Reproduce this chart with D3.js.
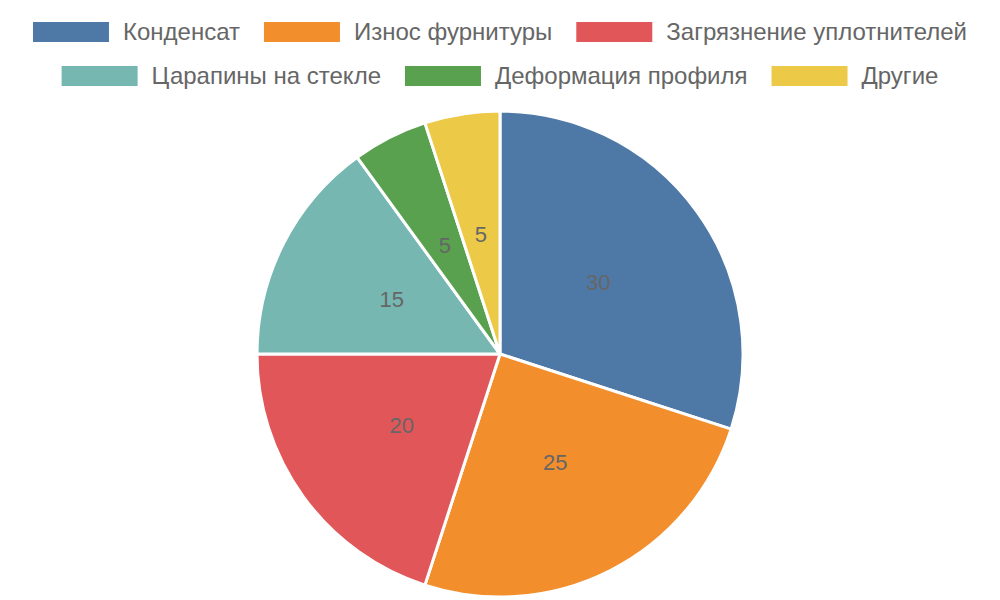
<!DOCTYPE html>
<html>
<head>
<meta charset="utf-8">
<script src="https://cdn.jsdelivr.net/npm/d3@7"></script>
<style>
  html, body { margin: 0; padding: 0; background: #fff; }
  svg { display: block; font-family: "Liberation Sans", Arial, sans-serif; }
</style>
</head>
<body>
<svg id="chart" width="1000" height="600"></svg>
<script>
const categories = ['Конденсат', 'Износ фурнитуры', 'Загрязнение уплотнителей', 'Царапины на стекле', 'Деформация профиля', 'Другие'];
const values = [30, 25, 20, 15, 5, 5];
const colors = ['#4e79a7', '#f28e2b', '#e15759', '#76b7b2', '#59a14f', '#edc948'];
const legendRows = [[0, 1, 2], [3, 4, 5]];

const width = 1000, height = 600;
const cx = 500, cy = 354, radius = 243;
const svg = d3.select('#chart');

const data = categories.map((name, i) => ({ name, value: values[i], color: colors[i] }));

// pie
const pie = d3.pie().value(d => d.value).sort(null);
const arc = d3.arc().innerRadius(0).outerRadius(radius);
const labelArc = d3.arc().innerRadius(radius / 2).outerRadius(radius / 2);

const g = svg.append('g').attr('transform', `translate(${cx},${cy})`);
const arcs = pie(data);

g.selectAll('path')
  .data(arcs)
  .enter()
  .append('path')
  .attr('d', arc)
  .attr('fill', d => d.data.color)
  .attr('stroke', '#fff')
  .attr('stroke-width', 3)
  .attr('stroke-linejoin', 'round');

g.selectAll('text.val')
  .data(arcs)
  .enter()
  .append('text')
  .attr('class', 'val')
  .attr('transform', d => `translate(${labelArc.centroid(d)})`)
  .attr('text-anchor', 'middle')
  .attr('dy', '0.35em')
  .attr('fill', '#666')
  .style('font-size', '22px')
  .text(d => d.data.value);

// legend
const boxW = 76, boxH = 20, textGap = 14, itemGap = 24;
const rowY = [32, 76];

legendRows.forEach((row, r) => {
  const rowG = svg.append('g');
  let x = 0;
  row.forEach(i => {
    const item = rowG.append('g').attr('transform', `translate(${x},0)`);
    item.append('rect')
      .attr('x', 0).attr('y', rowY[r] - boxH / 2)
      .attr('width', boxW).attr('height', boxH)
      .attr('fill', colors[i]);
    const t = item.append('text')
      .attr('x', boxW + textGap).attr('y', rowY[r])
      .attr('dy', '0.35em')
      .attr('fill', '#666')
      .style('font-size', '24px')
      .text(categories[i]);
    x += boxW + textGap + t.node().getComputedTextLength() + itemGap;
  });
  const total = x - itemGap;
  rowG.attr('transform', `translate(${(width - total) / 2},0)`);
});
</script>
</body>
</html>
